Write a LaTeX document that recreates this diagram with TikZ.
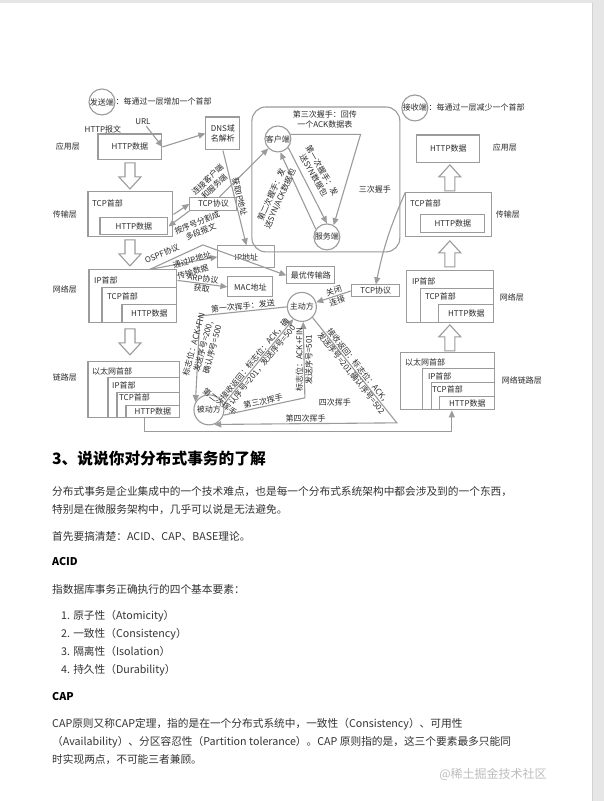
\documentclass[tikz,border=0pt]{standalone}
\usepackage{fontspec}
\setmainfont{Noto Sans CJK SC}
\usepackage{xcolor}
\usetikzlibrary{arrows.meta, positioning}

\definecolor{linegray}{HTML}{9B9B9B}
\definecolor{inkgray}{HTML}{2B2B2B}
\definecolor{bodytext}{HTML}{333333}
\definecolor{pagegray}{HTML}{E6E6E6}
\definecolor{markgray}{HTML}{BDBDBD}

\newcommand\dfont{\fontsize{8}{9.6}\selectfont}
\newcommand\bodyfont{\fontsize{10.7}{13}\selectfont}
\newcommand\titlefont{\fontsize{15.7}{19}\selectfont}

\begin{document}
\begin{tikzpicture}[x=1pt, y=-1pt,
  box/.style 2 args={draw=linegray, line width=1.1pt, minimum width=#1,
                     minimum height=#2, inner sep=0pt, font=\dfont, text=inkgray},
  party/.style={circle, draw=linegray, line width=1.1pt, inner sep=0pt,
                font=\dfont, text=inkgray},
  conn/.style={draw=linegray, line width=1.1pt,
               -{Triangle[length=7pt, width=6pt]}},
  lbl/.style={font=\dfont, text=inkgray, inner sep=1pt},
  hollowdown/.pic={\draw[linegray, line width=1.1pt, fill=white, line join=miter]
      (-5,-13) -- (5,-13) -- (5,1) -- (11,1) -- (0,13) -- (-11,1) -- (-5,1) -- cycle;},
  para/.style={anchor=west, inner sep=0pt, font=\bodyfont, text=bodytext},
  headline/.style={anchor=west, inner sep=0pt, font=\titlefont\bfseries, text=black}
]
  % page
  \fill[pagegray] (0,0) rectangle (604,801);
  \fill[white] (0,3) rectangle (593,801);
  \draw[black!18, line width=.6pt] (593,3) -- (593,801);
  \useasboundingbox (0,0) rectangle (604,801);

  % sender and receiver
  \node[party, minimum size=26pt] (sender) at (102,102) {发送端};
  \node[lbl, anchor=west, inner sep=0pt] (sendnote) at (sender.east) {：每通过一层增加一个首部};
  \node[party, minimum size=26pt] (receiver) at (415,108) {接收端};
  \node[lbl, anchor=west, inner sep=0pt] (recvnote) at (receiver.east) {：每通过一层减少一个首部};

  % layer names
  \node[lbl] (appL)   at (68,147) {应用层};
  \node[lbl] (transL) at (65,215) {传输层};
  \node[lbl] (netL)   at (65,290) {网络层};
  \node[lbl] (linkLn) at (65,378) {链路层};
  \node[lbl] (appR)   at (505,148) {应用层};
  \node[lbl] (transR) at (508,215) {传输层};
  \node[lbl] (netR)   at (512,298) {网络层};
  \node[lbl] (linkRn) at (522,381) {网络链路层};

  % sending stack
  \node[box={64}{26}] (httpL) at (130,147) {HTTP数据};
  \node[lbl] (httpmsg) at (103,129) {HTTP报文};
  \node[lbl] (url) at (143,122) {URL};
  \node[box={34}{33}, align=center] (dns) at (223,133.5) {DNS域\\名解析};
  \pic at (130,176) {hollowdown};
  \node[box={85}{45}] (tcpL) at (130.5,214.5) {};
  \node[lbl, anchor=west] (tcpLtag) at (91,204) {TCP首部};
  \node[box={68}{17}] (tcpLin) at (134,226.5) {HTTP数据};
  \node[box={47}{13}] (protoL) at (213.5,204) {TCP协议};
  \pic at (130,253) {hollowdown};
  \node[box={88}{53}] (ipL) at (133,296.5) {};
  \node[lbl, anchor=west] (ipLtag) at (93,281) {IP首部};
  \node[box={75}{35}] (ipLtcp) at (139.5,305.5) {};
  \node[lbl, anchor=west] (ipLtcptag) at (106,297) {TCP首部};
  \node[box={55}{18}] (ipLhttp) at (149.5,314) {HTTP数据};
  \pic at (130,342) {hollowdown};
  \node[box={92}{56}] (linkL) at (134,390) {};
  \node[lbl, anchor=west] (linkLtag) at (91,372) {以太网首部};
  \node[box={72}{40}] (linkLip) at (144,398) {};
  \node[lbl, anchor=west] (linkLiptag) at (111,386) {IP首部};
  \node[box={63}{25}] (linkLtcp) at (148.5,405.5) {};
  \node[lbl, anchor=west] (linkLtcptag) at (118,398) {TCP首部};
  \node[box={54}{12}] (linkLhttp) at (153,412) {HTTP数据};

  % addressing
  \node[box={57}{22}] (ipaddr) at (246.5,257) {IP地址};
  \node[box={45}{20}] (mac) at (250.5,287) {MAC地址};
  \node[box={48}{17}] (route) at (311,275.5) {最优传输路};

  % three-way handshake
  \node[draw=linegray, line width=1.1pt, rounded corners=14pt,
        minimum width=148pt, minimum height=145pt] (shake) at (326,179.5) {};
  \node[party, minimum size=26pt] (client) at (278,139) {客户端};
  \node[party, minimum size=26pt] (server) at (327,237) {服务端};
  \node[lbl, align=center] (thirdlbl) at (325,119.5) {第三次握手：回传\\一个ACK数据表};
  \node[lbl] (shakelbl) at (375,190) {三次握手};

  % receiving stack
  \node[box={63}{28}] (httpR) at (448.5,149) {HTTP数据};
  \pic[rotate=180] at (450,178) {hollowdown};
  \node[box={86}{44}] (tcpR) at (449,215) {};
  \node[lbl, anchor=west] (tcpRtag) at (409,204) {TCP首部};
  \node[box={64}{18}] (tcpRin) at (453,224) {HTTP数据};
  \pic[rotate=180] at (450,254) {hollowdown};
  \node[box={87}{52}] (ipR) at (450.5,297) {};
  \node[lbl, anchor=west] (ipRtag) at (411,282) {IP首部};
  \node[box={73}{34}] (ipRtcp) at (457.5,306) {};
  \node[lbl, anchor=west] (ipRtcptag) at (424,297) {TCP首部};
  \node[box={55}{18}] (ipRhttp) at (466.5,314) {HTTP数据};
  \pic[rotate=180] at (450,338) {hollowdown};
  \node[box={94}{57}] (linkR) at (448,381.5) {};
  \node[lbl, anchor=west] (linkRtag) at (404,363) {以太网首部};
  \node[box={72}{41}] (linkRip) at (459,389.5) {};
  \node[lbl, anchor=west] (linkRiptag) at (427,377) {IP首部};
  \node[box={63}{27}] (linkRtcp) at (463.5,396.5) {};
  \node[lbl, anchor=west] (linkRtcptag) at (431,390) {TCP首部};
  \node[box={55}{13}] (linkRhttp) at (467.5,403.5) {HTTP数据};
  \node[box={48}{12}] (protoR) at (376,291) {TCP协议};

  % four-way wave
  \node[party, minimum size=29pt] (active) at (302,307) {主动方};
  \node[party, minimum size=30pt] (passive) at (209,410) {被动方};
  \coordinate (w1) at (200,316);
  \coordinate (w3) at (305,398);
  \coordinate (w4) at (397,423);
  \coordinate (ospf) at (203,245);

  % application and transport
  \draw[conn] (url) -- (httpL.east);
  \draw[conn] (httpL.east) -- (dns.west);
  \draw[conn] (tcpL.east) -- (protoL.west);
  \draw[conn] (protoL.south west) -- (tcpLin.east);
  \node[lbl, rotate=22, align=center] (splitlbl) at (199,227) {按序号分割成\\多段报文};
  \draw[conn] ([xshift=6pt]protoL.north) -- (client);
  \node[lbl, rotate=44, align=center] (connlbl) at (211,183) {连接客户端\\和服务端};
  \draw[conn] (dns.south) -- node[lbl, midway, above, sloped] {获取IP地址} (ipaddr.north);

  % network
  \draw[conn] ([xshift=17pt]ipL.north) -- (ospf) -- (route.west);
  \node[lbl, rotate=22, inner sep=0pt] (ospflbl) at (162,254) {OSPF协议};
  \draw[conn] ([xshift=17pt]ipL.north) -- (ipaddr.west);
  \node[lbl, rotate=16, inner sep=0pt] (vialbl) at (192,260) {通过IP地址};
  \node[lbl, rotate=16, inner sep=0pt] (sendlbl) at (193,272) {传输数据};
  \draw[conn] ([yshift=16pt]ipL.east) -- node[lbl, midway, above, sloped, inner sep=.5pt] {ARP协议}
    node[lbl, midway, below, sloped] {获取} (mac.west);

  % handshake
  \draw[conn] (client.-40) -- (server.90);
  \node[lbl, rotate=-60, align=center] (syn1) at (318,173) {第一次握手：发\\送SYN数据包};
  \draw[conn] (server.145) -- (client.-80);
  \node[lbl, rotate=66, align=center] (syn2) at (276,197) {第二次握手：发\\送SYN/ACK数据包};
  \draw[conn] (client.20) -- ++(70,0) -- (server.60);

  % closing
  \draw[conn] (tcpR.north west) to[bend right=6] (protoR.north);
  \draw[conn] (protoR.west) -- node[lbl, pos=.45, above, sloped] {关闭}
    node[lbl, pos=.45, below, sloped] {连接} (active);
  \draw[conn] (active.west) -- node[lbl, midway, above, sloped] {第一次挥手：发送} (w1) -- (passive.150);
  \node[lbl, rotate=75, align=center] (fin1) at (203,347) {标志位：ACK+FIN\\发送序号=200,\\确认序号=500};
  \draw[conn] (passive.20) -- node[lbl, midway, sloped, align=center]
    {接收返回：标志位：ACK，确\\认序号=201，发送序号=500} (active.235);
  \node[lbl, rotate=-37] (wave2) at (220,402) {第二次挥手};
  \draw[conn] (passive.-20) -- node[lbl, midway, above, sloped] {第三次挥手} (w3)
    -- node[lbl, midway, rotate=90, align=center] {标志位：ACK+FIN\\发送序号=501} (active.-85);
  \draw[conn] (active.-45) -- node[lbl, midway, sloped, align=center]
    {接收返回：标志位：ACK，\\发送序号=201,确认序号=502} (w4)
    -- node[lbl, midway, above] {第四次挥手} (passive.-70);
  \node[lbl] (fourlbl) at (335,403) {四次挥手};

  % link layer hand-over
  \draw[conn] ([xshift=11pt]linkL.south) -- ++(0,13) -| ([xshift=4pt]linkR.south);

  % article text
  \node[headline] (title) at (52,459) {3、说说你对分布式事务的了解};
  \node[para] (p1a) at (52,492) {分布式事务是企业集成中的一个技术难点，也是每一个分布式系统架构中都会涉及到的一个东西，};
  \node[para] (p1b) at (52,510) {特别是在微服务架构中，几乎可以说是无法避免。};
  \node[para] (p2) at (52,537) {首先要搞清楚：ACID、CAP、BASE理论。};
  \node[para, font=\bodyfont\bfseries, text=black] (acid) at (52,562) {ACID};
  \node[para] (p3) at (52,590) {指数据库事务正确执行的四个基本要素：};
  \node[para] (item1) at (61,616) {1. 原子性（Atomicity）};
  \node[para] (item2) at (61,634) {2. 一致性（Consistency）};
  \node[para] (item3) at (61,652) {3. 隔离性（Isolation）};
  \node[para] (item4) at (61,670) {4. 持久性（Durability）};
  \node[para, font=\bodyfont\bfseries, text=black] (cap) at (52,697) {CAP};
  \node[para] (p4a) at (52,724) {CAP原则又称CAP定理，指的是在一个分布式系统中，一致性（Consistency）、可用性};
  \node[para] (p4b) at (52,742) {（Availability）、分区容忍性（Partition tolerance）。CAP 原则指的是，这三个要素最多只能同};
  \node[para] (p4c) at (52,760) {时实现两点，不可能三者兼顾。};
  \node[anchor=east, inner sep=0pt, font=\fontsize{12}{14}\selectfont, text=markgray] (mark) at (547,775) {@稀土掘金技术社区};
\end{tikzpicture}
\end{document}
